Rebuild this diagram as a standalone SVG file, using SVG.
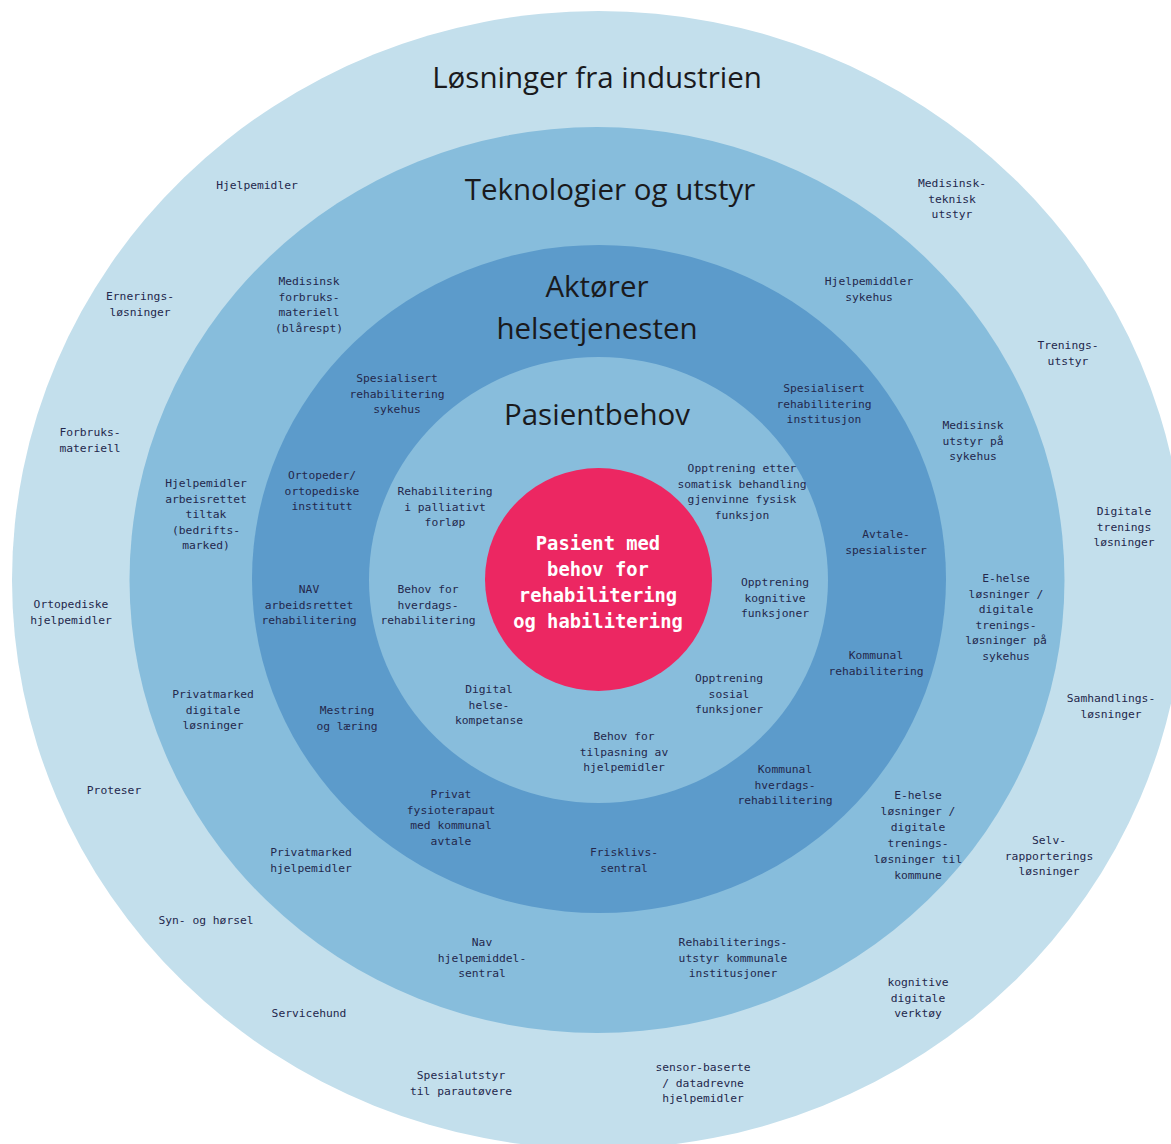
<svg xmlns="http://www.w3.org/2000/svg" width="1171" height="1144" viewBox="0 0 1171 1144">
<style>
.l{font-family:"DejaVu Sans Mono","Liberation Mono",monospace;font-size:11.3px;fill:#24284c;text-anchor:middle}
.t{font-family:"Open Sans","Noto Sans",sans-serif;font-size:29.5px;fill:#1a1a1d;text-anchor:middle}
.c{font-family:"DejaVu Sans Mono","Liberation Mono",monospace;font-size:18.8px;font-weight:bold;fill:#ffffff;text-anchor:middle}
</style>
<rect width="1171" height="1144" fill="#ffffff"/>
<g id="rings">
<ellipse id="ring-industri" cx="598.5" cy="580" rx="586.5" ry="569" fill="#c3dfec"/>
<ellipse id="ring-teknologi" cx="597" cy="580" rx="467.5" ry="453" fill="#87bddc"/>
<ellipse id="ring-aktorer" cx="599" cy="579" rx="347" ry="334" fill="#5c9bcb"/>
<ellipse id="ring-behov" cx="598.5" cy="580" rx="229.5" ry="223" fill="#88bddc"/>
<ellipse id="ring-pasient" cx="598.5" cy="579.5" rx="113.5" ry="111.5" fill="#ec2762"/>
</g>
<g id="titles">
<text id="title-industri" class="t" x="597" y="88">Løsninger fra industrien</text>
<text id="title-teknologi" class="t" x="610" y="200">Teknologier og utstyr</text>
<text id="title-aktorer" class="t" x="597" y="297"><tspan x="597">Aktører</tspan><tspan x="597" dy="42">helsetjenesten</tspan></text>
<text id="title-behov" class="t" x="597" y="425">Pasientbehov</text>
</g>
<g id="center">
<text class="c" y="550"><tspan x="598">Pasient med</tspan><tspan x="598" dy="26">behov for</tspan><tspan x="598" dy="26">rehabilitering</tspan><tspan x="598" dy="26">og habilitering</tspan></text>
</g>
<g id="industri-labels">
<g id="n-hjelpemidler"><text class="l" y="189"><tspan x="257">Hjelpemidler</tspan></text></g>
<g id="n-medisinsk-teknisk"><text class="l" y="187"><tspan x="952">Medisinsk-</tspan><tspan x="952" dy="15.5">teknisk</tspan><tspan x="952" dy="15.5">utstyr</tspan></text></g>
<g id="n-ernering"><text class="l" y="300"><tspan x="140">Ernerings-</tspan><tspan x="140" dy="15.5">løsninger</tspan></text></g>
<g id="n-treningsutstyr"><text class="l" y="349"><tspan x="1068">Trenings-</tspan><tspan x="1068" dy="15.5">utstyr</tspan></text></g>
<g id="n-forbruks"><text class="l" y="436"><tspan x="90">Forbruks-</tspan><tspan x="90" dy="15.5">materiell</tspan></text></g>
<g id="n-digitale-trenings"><text class="l" y="515"><tspan x="1124">Digitale</tspan><tspan x="1124" dy="15.5">trenings</tspan><tspan x="1124" dy="15.5">løsninger</tspan></text></g>
<g id="n-ortopediske"><text class="l" y="608"><tspan x="71">Ortopediske</tspan><tspan x="71" dy="15.5">hjelpemidler</tspan></text></g>
<g id="n-samhandling"><text class="l" y="702"><tspan x="1111">Samhandlings-</tspan><tspan x="1111" dy="15.5">løsninger</tspan></text></g>
<g id="n-proteser"><text class="l" y="794"><tspan x="114">Proteser</tspan></text></g>
<g id="n-selvrapportering"><text class="l" y="844"><tspan x="1049">Selv-</tspan><tspan x="1049" dy="15.5">rapporterings</tspan><tspan x="1049" dy="15.5">løsninger</tspan></text></g>
<g id="n-syn"><text class="l" y="924"><tspan x="206">Syn- og hørsel</tspan></text></g>
<g id="n-kognitive-verktoy"><text class="l" y="986"><tspan x="918">kognitive</tspan><tspan x="918" dy="15.5">digitale</tspan><tspan x="918" dy="15.5">verktøy</tspan></text></g>
<g id="n-servicehund"><text class="l" y="1017"><tspan x="309">Servicehund</tspan></text></g>
<g id="n-spesialutstyr"><text class="l" y="1079"><tspan x="461">Spesialutstyr</tspan><tspan x="461" dy="15.5">til parautøvere</tspan></text></g>
<g id="n-sensor"><text class="l" y="1071"><tspan x="703">sensor-baserte</tspan><tspan x="703" dy="15.5">/ datadrevne</tspan><tspan x="703" dy="15.5">hjelpemidler</tspan></text></g>
</g>
<g id="teknologi-labels">
<g id="n-med-forbruk"><text class="l" y="285"><tspan x="309">Medisinsk</tspan><tspan x="309" dy="15.5">forbruks-</tspan><tspan x="309" dy="15.5">materiell</tspan><tspan x="309" dy="15.5">(blårespt)</tspan></text></g>
<g id="n-hjelpemiddler-sykehus"><text class="l" y="285"><tspan x="869">Hjelpemiddler</tspan><tspan x="869" dy="15.5">sykehus</tspan></text></g>
<g id="n-med-utstyr"><text class="l" y="429"><tspan x="973">Medisinsk</tspan><tspan x="973" dy="15.5">utstyr på</tspan><tspan x="973" dy="15.5">sykehus</tspan></text></g>
<g id="n-hjelpemidler-arbeid"><text class="l" y="487"><tspan x="206">Hjelpemidler</tspan><tspan x="206" dy="15.5">arbeisrettet</tspan><tspan x="206" dy="15.5">tiltak</tspan><tspan x="206" dy="15.5">(bedrifts-</tspan><tspan x="206" dy="15.5">marked)</tspan></text></g>
<g id="n-ehelse-sykehus"><text class="l" y="582"><tspan x="1006">E-helse</tspan><tspan x="1006" dy="15.5">løsninger /</tspan><tspan x="1006" dy="15.5">digitale</tspan><tspan x="1006" dy="15.5">trenings-</tspan><tspan x="1006" dy="15.5">løsninger på</tspan><tspan x="1006" dy="15.5">sykehus</tspan></text></g>
<g id="n-privat-digitale"><text class="l" y="698"><tspan x="213">Privatmarked</tspan><tspan x="213" dy="15.5">digitale</tspan><tspan x="213" dy="15.5">løsninger</tspan></text></g>
<g id="n-ehelse-kommune"><text class="l" y="799"><tspan x="918">E-helse</tspan><tspan x="918" dy="16">løsninger /</tspan><tspan x="918" dy="16">digitale</tspan><tspan x="918" dy="16">trenings-</tspan><tspan x="918" dy="16">løsninger til</tspan><tspan x="918" dy="16">kommune</tspan></text></g>
<g id="n-privat-hjelpemidler"><text class="l" y="856"><tspan x="311">Privatmarked</tspan><tspan x="311" dy="15.5">hjelpemidler</tspan></text></g>
<g id="n-nav-sentral"><text class="l" y="946"><tspan x="482">Nav</tspan><tspan x="482" dy="15.5">hjelpemiddel-</tspan><tspan x="482" dy="15.5">sentral</tspan></text></g>
<g id="n-rehab-utstyr"><text class="l" y="946"><tspan x="733">Rehabiliterings-</tspan><tspan x="733" dy="15.5">utstyr kommunale</tspan><tspan x="733" dy="15.5">institusjoner</tspan></text></g>
</g>
<g id="aktorer-labels">
<g id="n-spes-sykehus"><text class="l" y="382"><tspan x="397">Spesialisert</tspan><tspan x="397" dy="15.5">rehabilitering</tspan><tspan x="397" dy="15.5">sykehus</tspan></text></g>
<g id="n-spes-institusjon"><text class="l" y="392"><tspan x="824">Spesialisert</tspan><tspan x="824" dy="15.5">rehabilitering</tspan><tspan x="824" dy="15.5">institusjon</tspan></text></g>
<g id="n-ortopeder"><text class="l" y="479"><tspan x="322">Ortopeder/</tspan><tspan x="322" dy="15.5">ortopediske</tspan><tspan x="322" dy="15.5">institutt</tspan></text></g>
<g id="n-avtalespes"><text class="l" y="538"><tspan x="886">Avtale-</tspan><tspan x="886" dy="15.5">spesialister</tspan></text></g>
<g id="n-nav-arbeid"><text class="l" y="593"><tspan x="309">NAV</tspan><tspan x="309" dy="15.5">arbeidsrettet</tspan><tspan x="309" dy="15.5">rehabilitering</tspan></text></g>
<g id="n-kommunal-rehab"><text class="l" y="659"><tspan x="876">Kommunal</tspan><tspan x="876" dy="15.5">rehabilitering</tspan></text></g>
<g id="n-mestring"><text class="l" y="714"><tspan x="347">Mestring</tspan><tspan x="347" dy="15.5">og læring</tspan></text></g>
<g id="n-privat-fysio"><text class="l" y="798"><tspan x="451">Privat</tspan><tspan x="451" dy="15.5">fysioterapaut</tspan><tspan x="451" dy="15.5">med kommunal</tspan><tspan x="451" dy="15.5">avtale</tspan></text></g>
<g id="n-kommunal-hverdag"><text class="l" y="773"><tspan x="785">Kommunal</tspan><tspan x="785" dy="15.5">hverdags-</tspan><tspan x="785" dy="15.5">rehabilitering</tspan></text></g>
<g id="n-frisklivs"><text class="l" y="856"><tspan x="624">Frisklivs-</tspan><tspan x="624" dy="15.5">sentral</tspan></text></g>
</g>
<g id="behov-labels">
<g id="n-palliativt"><text class="l" y="495"><tspan x="445">Rehabilitering</tspan><tspan x="445" dy="15.5">i palliativt</tspan><tspan x="445" dy="15.5">forløp</tspan></text></g>
<g id="n-somatisk"><text class="l" y="472"><tspan x="742">Opptrening etter</tspan><tspan x="742" dy="15.5">somatisk behandling</tspan><tspan x="742" dy="15.5">gjenvinne fysisk</tspan><tspan x="742" dy="15.5">funksjon</tspan></text></g>
<g id="n-hverdagsrehab"><text class="l" y="593"><tspan x="428">Behov for</tspan><tspan x="428" dy="15.5">hverdags-</tspan><tspan x="428" dy="15.5">rehabilitering</tspan></text></g>
<g id="n-kognitive"><text class="l" y="586"><tspan x="775">Opptrening</tspan><tspan x="775" dy="15.5">kognitive</tspan><tspan x="775" dy="15.5">funksjoner</tspan></text></g>
<g id="n-digital-helse"><text class="l" y="693"><tspan x="489">Digital</tspan><tspan x="489" dy="15.5">helse-</tspan><tspan x="489" dy="15.5">kompetanse</tspan></text></g>
<g id="n-sosial"><text class="l" y="682"><tspan x="729">Opptrening</tspan><tspan x="729" dy="15.5">sosial</tspan><tspan x="729" dy="15.5">funksjoner</tspan></text></g>
<g id="n-tilpasning"><text class="l" y="740"><tspan x="624">Behov for</tspan><tspan x="624" dy="15.5">tilpasning av</tspan><tspan x="624" dy="15.5">hjelpemidler</tspan></text></g>
</g>
</svg>
